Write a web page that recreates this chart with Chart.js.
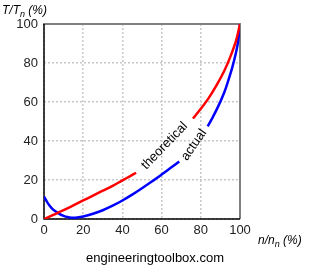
<!DOCTYPE html>
<html>
<head>
<meta charset="utf-8">
<script src="https://cdn.jsdelivr.net/npm/chart.js@4"></script>
<style>
  html, body { margin: 0; padding: 0; background: #fff; }
  #wrap { position: relative; width: 310px; height: 267px; }
</style>
</head>
<body>
<div id="wrap"><canvas id="torque" width="310" height="267"></canvas></div>
<script>
// speed n/n_n (%) and torque T/T_n (%), null = gap for the label
var theoX = [0, 5, 10, 15, 20, 25, 30, 35, 40, 44, 47, 60, 76, 80, 84, 88, 92, 95, 98, 100];
var theoY = [0, 2.2, 4.5, 7, 9.5, 12, 14.5, 17, 19.8, 22, 23.7, null, 51.5, 56.5, 62, 68.5, 76, 83, 91.5, 100];
var actX = [0, 2, 4, 6, 8, 10, 12, 14, 17, 20, 25, 30, 35, 40, 45, 50, 55, 60, 65, 69, 76, 83.5, 86, 89, 92, 94, 96, 98, 99, 100];
var actY = [11.5, 8, 5.5, 3.8, 2.5, 1.6, 1, 0.7, 0.8, 1.3, 2.7, 4.5, 6.8, 9.5, 12.5, 15.8, 19.2, 22.8, 26.5, 29.5, null, 47.5, 52, 58, 65, 71, 77.5, 85.5, 91, 100];
var xTicks = [0, 20, 40, 60, 80, 100];
var yTicks = [0, 20, 40, 60, 80, 100];

function pts(xs, ys) {
  return xs.map(function (x, i) { return { x: x, y: ys[i] }; });
}

var FONT = "'Liberation Sans', Arial, sans-serif";

var decor = {
  id: 'decor',
  beforeDatasetsDraw: function (chart) {
    var c = chart.ctx, a = chart.chartArea;
    c.save();
    c.lineCap = 'butt';
    c.strokeStyle = '#808080';
    c.lineWidth = 2;
    c.beginPath();
    c.moveTo(a.left - 1, a.top);
    c.lineTo(a.right, a.top);
    c.lineTo(a.right, a.bottom);
    c.stroke();
    c.strokeStyle = '#000';
    c.lineWidth = 1.5;
    c.beginPath();
    c.moveTo(a.left, a.top);
    c.lineTo(a.left, a.bottom);
    c.lineTo(a.right, a.bottom);
    c.stroke();
    c.restore();
  },
  afterDraw: function (chart) {
    var c = chart.ctx, xs = chart.scales.x, ys = chart.scales.y;
    c.save();
    c.fillStyle = '#000';
    // curve labels
    c.font = '13px ' + FONT;
    c.textAlign = 'center';
    c.textBaseline = 'middle';
    c.save();
    c.translate(xs.getPixelForValue(61.5), ys.getPixelForValue(37.5));
    c.rotate(-46 * Math.PI / 180);
    c.fillText('theoretical', 0, 0);
    c.restore();
    c.save();
    c.translate(xs.getPixelForValue(76.5), ys.getPixelForValue(38));
    c.rotate(-55 * Math.PI / 180);
    c.fillText('actual', 0, 0);
    c.restore();
    // axis titles
    c.font = 'italic 12px ' + FONT;
    c.textAlign = 'left';
    c.textBaseline = 'alphabetic';
    var x0 = 2, y0 = 14;
    c.fillText('T/T', x0, y0);
    var w = c.measureText('T/T').width;
    c.font = 'italic 9px ' + FONT;
    c.fillText('n', x0 + w, y0 + 3);
    var w2 = c.measureText('n').width;
    c.font = 'italic 12px ' + FONT;
    c.fillText(' (%)', x0 + w + w2, y0);
    x0 = 258; y0 = 244;
    c.fillText('n/n', x0, y0);
    w = c.measureText('n/n').width;
    c.font = 'italic 9px ' + FONT;
    c.fillText('n', x0 + w, y0 + 3);
    w2 = c.measureText('n').width;
    c.font = 'italic 12px ' + FONT;
    c.fillText(' (%)', x0 + w + w2, y0);
    // footer
    c.font = '13px ' + FONT;
    c.textAlign = 'center';
    c.fillText('engineeringtoolbox.com', 155, 262);
    c.restore();
  }
};

var ctx = document.getElementById('torque').getContext('2d');
var torque = new Chart(ctx, {
  type: 'line',
  data: {
    datasets: [{
      label: 'theoretical',
      data: pts(theoX, theoY),
      borderColor: '#ff0000',
      borderWidth: 2.5,
      pointRadius: 0,
      tension: 0.35,
      spanGaps: false
    }, {
      label: 'actual',
      data: pts(actX, actY),
      borderColor: '#0000ff',
      borderWidth: 2.5,
      pointRadius: 0,
      tension: 0.35,
      spanGaps: false
    }]
  },
  options: {
    responsive: false,
    animation: false,
    events: [],
    layout: { padding: { left: 0, right: 70, top: 24, bottom: 0 } },
    plugins: { legend: { display: false }, tooltip: { enabled: false } },
    scales: {
      x: {
        type: 'linear',
        min: 0, max: 100,
        afterFit: function (s) { s.height = 48; },
        afterBuildTicks: function (s) { s.ticks = xTicks.map(function (v) { return { value: v }; }); },
        border: { display: false, dash: [2, 2] },
        grid: { color: '#c8c8c8', lineWidth: 1.5, drawTicks: false },
        ticks: { color: '#222', padding: 4, maxRotation: 0, font: { family: FONT, size: 13 } }
      },
      y: {
        type: 'linear',
        min: 0, max: 100,
        afterFit: function (s) { s.width = 44; },
        afterBuildTicks: function (s) { s.ticks = yTicks.map(function (v) { return { value: v }; }); },
        border: { display: false, dash: [2, 2] },
        grid: { color: '#c8c8c8', lineWidth: 1.5, drawTicks: false },
        ticks: { color: '#222', padding: 6, font: { family: FONT, size: 13 } }
      }
    }
  },
  plugins: [decor]
});
</script>
</body>
</html>
